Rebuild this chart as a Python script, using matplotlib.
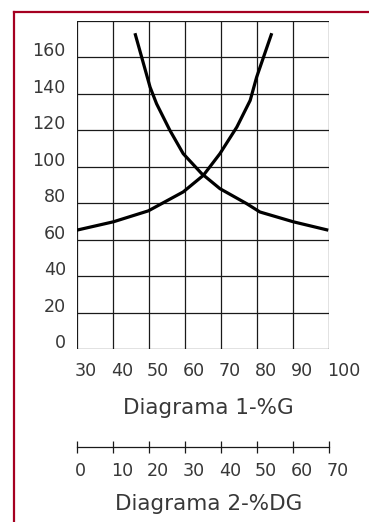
import matplotlib
matplotlib.use("Agg")
import matplotlib.pyplot as plt
from matplotlib.lines import Line2D
from matplotlib.transforms import ScaledTranslation, blended_transform_factory

# ---- data ----
curve1_x = [46.1, 50.3, 52.1, 55.8, 59.5, 64.6, 69.7, 77.1, 80.8, 90.1, 99.8]
curve1_y = [173.3, 143.7, 134.6, 120.0, 107.2, 96.3, 88.0, 79.8, 75.2, 69.8, 65.2]
curve2_x = [29.9, 40.1, 49.8, 59.5, 65.1, 69.7, 74.4, 78.1, 79.9, 84.1]
curve2_y = [65.2, 69.8, 75.8, 86.2, 95.3, 107.2, 121.8, 136.4, 149.2, 173.3]
x1_ticks = [30, 40, 50, 60, 70, 80, 90, 100]
y_ticks = [0, 20, 40, 60, 80, 100, 120, 140, 160]
x2_ticks = [0, 10, 20, 30, 40, 50, 60, 70]
title1 = "Diagrama 1-%G"
title2 = "Diagrama 2-%DG"

W, H = 369, 522
DPI = 100
fig = plt.figure(figsize=(W / DPI, H / DPI), dpi=DPI)
fig.patch.set_facecolor("white")

def fx(px):
    return px / W

def fy(py):
    return 1 - py / H

TXT = "#383838"
GRID = "#1a1a1a"

# main axes: px left 77, right 329, top 21, bottom 349
ax = fig.add_axes([fx(77), fy(349), fx(329) - fx(77), fy(21) - fy(349)])
ax.set_xlim(30, 100)
ax.set_ylim(0, 180)
for xv in range(30, 101, 10):
    ax.axvline(xv, color=GRID, lw=0.9, zorder=1)
for yv in range(0, 181, 20):
    ax.axhline(yv, color=GRID, lw=0.9, zorder=1)
for s in ax.spines.values():
    s.set_visible(False)
ax.set_xticks([])
ax.set_yticks([])

ax.plot(curve1_x, curve1_y, color="black", lw=2.3, zorder=3, solid_capstyle="butt")
ax.plot(curve2_x, curve2_y, color="black", lw=2.3, zorder=3, solid_capstyle="butt")

fs_tick = 12.6
# y labels: right-aligned at px 66, sitting on the gridline
ytr = blended_transform_factory(fig.transFigure, ax.transData) + ScaledTranslation(0, 1 / DPI, fig.dpi_scale_trans)
for yv in y_ticks:
    ax.text(fx(66), yv, str(yv), transform=ytr, ha="right", va="baseline",
            fontsize=fs_tick, color=TXT, clip_on=False)

# x labels main axis
xtr = blended_transform_factory(ax.transData, fig.transFigure) + ScaledTranslation(-2 / DPI, 0, fig.dpi_scale_trans)
for xv in x1_ticks:
    ax.text(xv, fy(371), str(xv), transform=xtr, ha="left", va="center",
            fontsize=fs_tick, color=TXT, clip_on=False)

fig.text(fx(208), fy(408), title1, ha="center", va="center", fontsize=15.5, color=TXT)

# second axis line at px y 447
ax2 = fig.add_axes([fx(77), fy(447), fx(329) - fx(77), 0.0001])
ax2.set_xlim(0, 70)
ax2.set_ylim(0, 1)
for side in ["top", "left", "right"]:
    ax2.spines[side].set_visible(False)
ax2.spines["bottom"].set_color(GRID)
ax2.spines["bottom"].set_linewidth(0.9)
ax2.set_yticks([])
ax2.set_xticks(x2_ticks)
ax2.set_xticklabels([])
ax2.tick_params(axis="x", direction="inout", length=8, width=0.9, color=GRID)
x2tr = blended_transform_factory(ax2.transData, fig.transFigure) + ScaledTranslation(-2 / DPI, 0, fig.dpi_scale_trans)
for xv in x2_ticks:
    ax2.text(xv, fy(471), str(xv), transform=x2tr, ha="left", va="center",
             fontsize=fs_tick, color=TXT, clip_on=False)

fig.text(fx(209), fy(504), title2, ha="center", va="center", fontsize=15.5, color=TXT)

# red frame (left and top)
RED = "#a50021"
fig.add_artist(Line2D([fx(14), fx(14)], [fy(12), 0], transform=fig.transFigure, color=RED, lw=1.6))
fig.add_artist(Line2D([fx(14), 1], [fy(12), fy(12)], transform=fig.transFigure, color=RED, lw=1.6))

fig.savefig("out.png", dpi=DPI, facecolor="white")
